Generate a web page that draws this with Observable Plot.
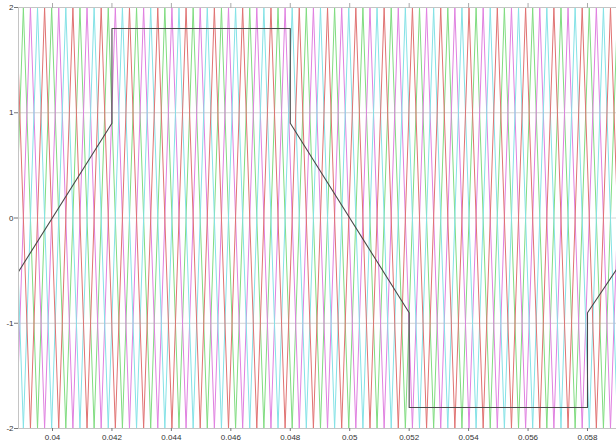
<!DOCTYPE html>
<html>
<head>
<meta charset="utf-8">
<script src="https://cdn.jsdelivr.net/npm/d3@7"></script>
<script src="https://cdn.jsdelivr.net/npm/@observablehq/plot@0.6"></script>
<style>
  html, body { margin: 0; padding: 0; background: #fff; }
</style>
</head>
<body>
<div id="chart"></div>
<script>
// ---- axis ticks ----
const xTicks = [0.04, 0.042, 0.044, 0.046, 0.048, 0.05, 0.052, 0.054, 0.056, 0.058];
const xTickLabels = ["0.04", "0.042", "0.044", "0.046", "0.048", "0.05", "0.052", "0.054", "0.056", "0.058"];
const yTicks = [-2, -1, 0, 1, 2];
const yTickLabels = ["-2", "-1", "0", "1", "2"];
const yGridLines = [-1, 0, 1];
const xDomain = [0.038856, 0.058976];
const yDomain = [-2, 2];

// ---- reference (modulating) signal: vertices ----
const refTime  = [0.038856, 0.042, 0.042, 0.048, 0.048, 0.052, 0.052, 0.058, 0.058, 0.058976];
const refValue = [-0.51,    0.9,   1.8,   1.8,   0.9,   -0.9,  -1.8,  -1.8,  -0.9,  -0.49];

// ---- triangular carriers: period and first-peak times ----
const carrierNames     = ["green", "magenta", "cyan", "red"];
const carrierColors    = ["#80dc80", "#e080e0", "#84e2e6", "#e07272"];
const carrierFirstPeak = [0.039020, 0.039258, 0.039496, 0.039734];
const carrierPeriod    = 0.000952;
const carrierPeak      = 2;

const refData = refTime.map((t, i) => ({t, v: refValue[i]}));

function carrierVertices(firstPeak) {
  const half = carrierPeriod / 2;
  const out = [];
  let k = -2;
  while (true) {
    const t = firstPeak + k * half;
    out.push({t, v: (k % 2 === 0) ? carrierPeak : -carrierPeak});
    if (t > xDomain[1] + carrierPeriod) break;
    k++;
  }
  return out;
}

const carrierMarks = carrierNames.map((name, i) =>
  Plot.line(carrierVertices(carrierFirstPeak[i]), {
    x: "t", y: "v", stroke: carrierColors[i], strokeWidth: 1, clip: true
  })
);

const chart = Plot.plot({
  width: 616,
  height: 446,
  marginLeft: 18,
  marginRight: 0,
  marginTop: 7,
  marginBottom: 18,
  style: {
    fontFamily: "'Liberation Sans', Arial, sans-serif",
    fontSize: "8px",
    background: "#ffffff",
    color: "#333"
  },
  x: {domain: xDomain},
  y: {domain: yDomain},
  marks: [
    Plot.ruleY(yGridLines, {stroke: "#d4d4d4", strokeWidth: 1}),
    ...carrierMarks,
    Plot.line(refData, {x: "t", y: "v", stroke: "#4a4a4a", strokeWidth: 1.1, clip: true}),
    Plot.frame({stroke: "#c4c4c4"}),
    Plot.axisX({
      ticks: xTicks,
      tickFormat: d => xTickLabels[xTicks.indexOf(d)],
      tickSize: 3,
      tickPadding: 3,
      stroke: "#777",
      label: null
    }),
    Plot.axisX({
      anchor: "top",
      ticks: xTicks,
      tickFormat: () => "",
      tickSize: 5,
      stroke: "#aaa",
      label: null
    }),
    Plot.axisY({
      ticks: yTicks,
      tickFormat: d => yTickLabels[yTicks.indexOf(d)],
      tickSize: 4,
      tickPadding: 1,
      stroke: "#777",
      label: null
    })
  ]
});

document.getElementById("chart").appendChild(chart);
</script>
</body>
</html>
